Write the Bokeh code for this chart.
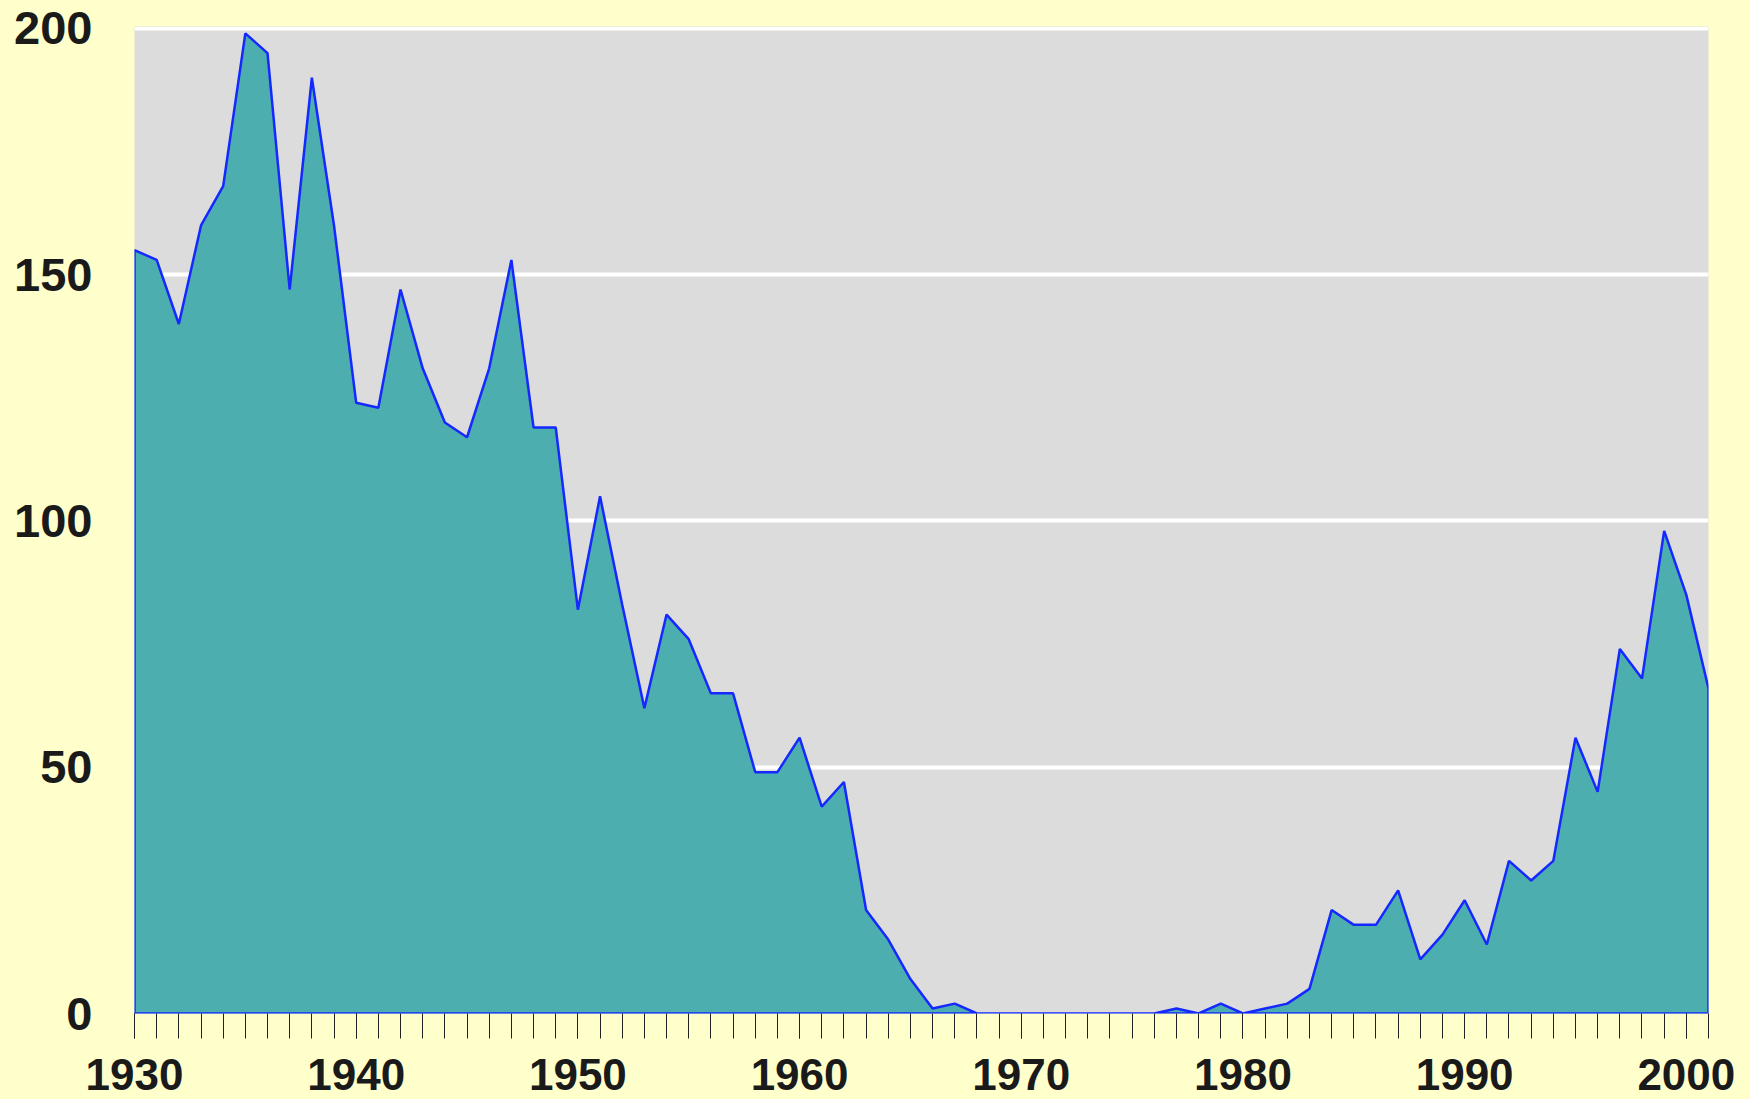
from bokeh.plotting import figure
from bokeh.models import Range1d, FixedTicker
from bokeh.embed import file_html
from bokeh.resources import INLINE

# ---- data ----
years = list(range(1930, 2002))
values = [
    155, 153, 140, 160, 168, 199, 195, 147, 190, 160,   # 1930-1939
    124, 123, 147, 131, 120, 117, 131, 153, 119, 119,   # 1940-1949
    82, 105, 83, 62, 81, 76, 65, 65, 49, 49,            # 1950-1959
    56, 42, 47, 21, 15, 7, 1, 2, 0, 0,                  # 1960-1969
    0, 0, 0, 0, 0, 0, 0, 1, 0, 2,                       # 1970-1979
    0, 1, 2, 5, 21, 18, 18, 25, 11, 16,                 # 1980-1989
    23, 14, 31, 27, 31, 56, 45, 74, 68, 98,             # 1990-1999
    85, 66,                                             # 2000-2001
]
x_tick_labels = [1930, 1940, 1950, 1960, 1970, 1980, 1990, 2000]
y_tick_labels = [0, 50, 100, 150, 200]

BG = "#FFFFCC"
PLOT_BG = "#DCDCDC"
FILL = "#4DAEAF"
LINE = "#1428FF"
TEXT = "#1A1A1A"
FONT = "Liberation Sans"

p = figure(
    width=1750, height=1099,
    x_range=Range1d(years[0], years[-1]),
    y_range=Range1d(0, 200.4),
    output_backend="svg", toolbar_location=None,
    min_border_left=134, min_border_right=42,
    min_border_top=26, min_border_bottom=86,
)
p.background_fill_color = PLOT_BG
p.border_fill_color = BG
p.outline_line_color = None

# area polygon closed down to the baseline
xs = years + [years[-1], years[0]]
ys = values + [0, 0]
p.patch(xs, ys, fill_color=FILL, line_color=LINE, line_width=2.5)

# x axis
xa = p.xaxis[0]
xa.ticker = FixedTicker(ticks=x_tick_labels, minor_ticks=years)
xa.axis_line_color = None
xa.major_tick_in = 0
xa.major_tick_out = 25
xa.minor_tick_in = 0
xa.minor_tick_out = 25
xa.major_tick_line_color = "#222222"
xa.minor_tick_line_color = "#222222"
xa.major_label_text_font = FONT
xa.major_label_text_font_style = "bold"
xa.major_label_text_font_size = "44px"
xa.major_label_text_color = TEXT
xa.major_label_standoff = 20

# y axis
ya = p.yaxis[0]
ya.ticker = FixedTicker(ticks=y_tick_labels)
ya.axis_line_color = None
ya.major_tick_in = 0
ya.major_tick_out = 0
ya.minor_tick_in = 0
ya.minor_tick_out = 0
ya.major_label_text_font = FONT
ya.major_label_text_font_style = "bold"
ya.major_label_text_font_size = "47px"
ya.major_label_text_color = TEXT
ya.major_label_standoff = 42

# grid
p.xgrid.grid_line_color = None
p.ygrid.ticker = FixedTicker(ticks=y_tick_labels)
p.ygrid.grid_line_color = "white"
p.ygrid.grid_line_width = 4

html = file_html(p, INLINE)
style = "<style>html, body { background-color: #FFFFCC; }</style>"
html = html.replace("</head>", style + "</head>", 1)
open("out.html", "w").write(html)
